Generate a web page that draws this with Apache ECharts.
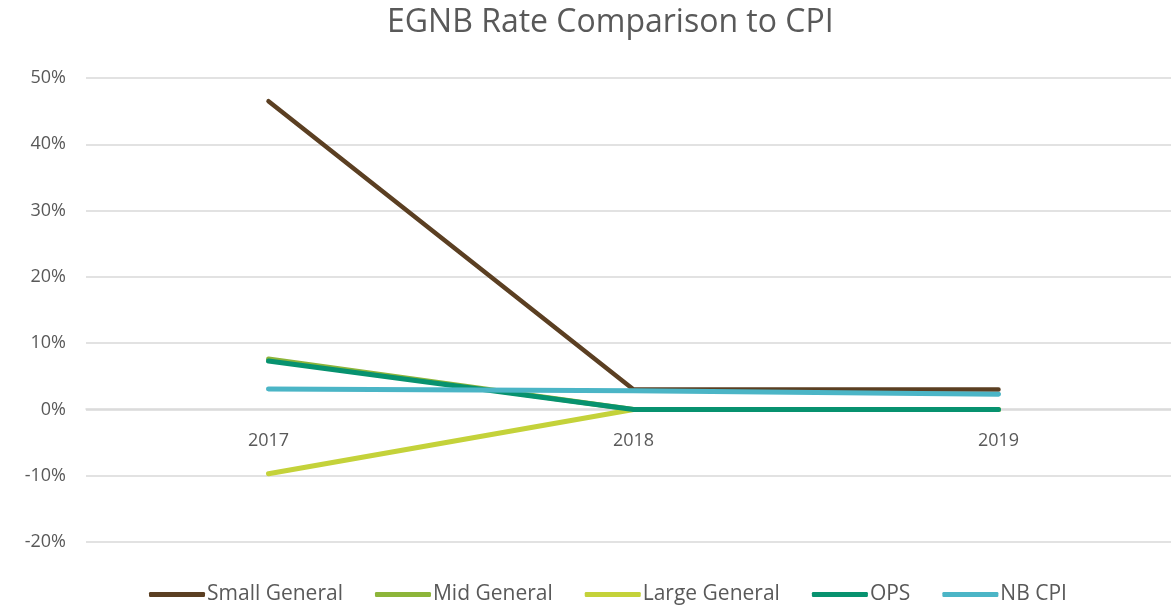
<!DOCTYPE html>
<html>
<head>
<meta charset="utf-8">
<script src="https://cdn.jsdelivr.net/npm/echarts@6/dist/echarts.min.js"></script>
<style>
  html, body { margin: 0; padding: 0; background: #fff; overflow: hidden; }
  /* plot runs past the right edge in the original, so the canvas is a bit wider than the window */
  #chart { width: 1185px; height: 605px; }
</style>
</head>
<body>
<div id="chart"></div>
<script>
// data (percent)
const years = ['2017', '2018', '2019']
const smallGeneral = [46.5, 3.0, 3.0]
const midGeneral = [7.6, 0, 0]
const largeGeneral = [-9.7, 0, 0]
const ops = [7.3, 0, 0]
const nbCpi = [3.1, 2.8, 2.3]

const textColor = '#595959'
const font = '"Open Sans", Lato, sans-serif'

const mkLine = (name, data, color, width) => ({
  name: name,
  type: 'line',
  data: data,
  symbol: 'none',
  animation: false,
  lineStyle: { color: color, width: width, cap: 'round', join: 'round' },
  itemStyle: { color: color }
})

const chart = echarts.init(document.getElementById('chart'))
chart.setOption({
  backgroundColor: '#fff',
  title: {
    text: 'EGNB Rate Comparison to CPI',
    left: 382,
    top: 2,
    textStyle: { color: textColor, fontSize: 32, fontWeight: 'normal', fontFamily: font }
  },
  legend: {
    bottom: -5,
    left: 144,
    icon: 'roundRect',
    itemWidth: 56,
    itemHeight: 5,
    itemGap: 32,
    textStyle: { color: textColor, fontSize: 21, fontFamily: font, padding: [0, 0, 0, -3] },
    data: ['Small General', 'Mid General', 'Large General', 'OPS', 'NB CPI']
  },
  grid: {
    left: 86,
    top: 78,
    width: 1095,
    bottom: 63,
    containLabel: false
  },
  xAxis: {
    type: 'category',
    data: years,
    boundaryGap: true,
    offset: -133,
    axisLine: { onZero: false, lineStyle: { color: '#d9d9d9', width: 1.5 } },
    axisTick: { show: false },
    axisLabel: { color: textColor, fontSize: 18, fontFamily: font, margin: 23 }
  },
  yAxis: {
    type: 'value',
    min: -20,
    max: 50,
    interval: 10,
    axisLine: { show: false },
    axisTick: { show: false },
    splitLine: { lineStyle: { color: '#d9d9d9', width: 1.5 } },
    axisLabel: { color: textColor, fontSize: 18, fontFamily: font, margin: 20, formatter: '{value}%' }
  },
  series: [
    mkLine('Small General', smallGeneral, '#5b3f22', 4.5),
    mkLine('Mid General', midGeneral, '#8db53a', 5),
    mkLine('Large General', largeGeneral, '#c4d23a', 5),
    mkLine('OPS', ops, '#07926f', 5),
    mkLine('NB CPI', nbCpi, '#4bb5c6', 5)
  ]
})
</script>
</body>
</html>
